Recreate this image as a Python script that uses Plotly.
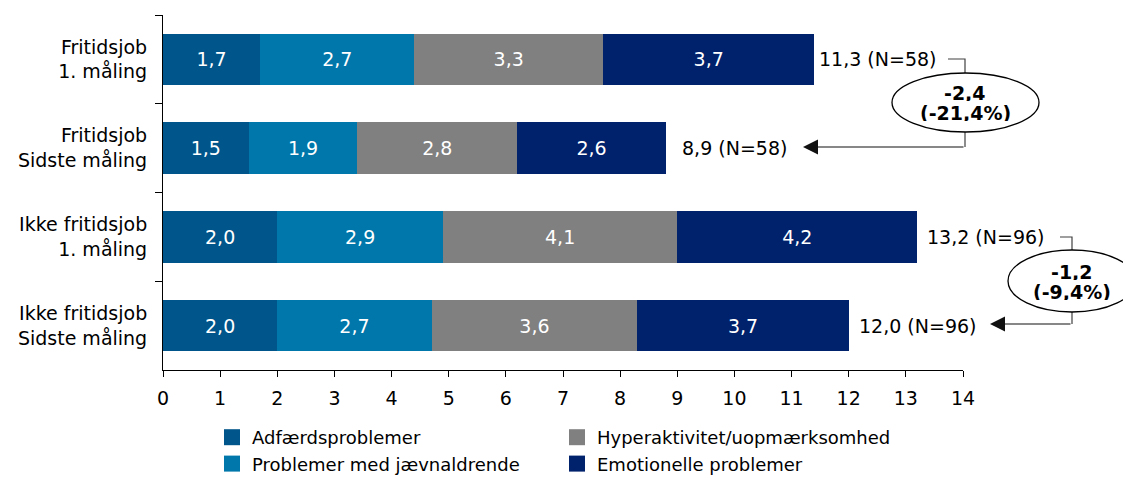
import plotly.graph_objects as go

categories = ["Fritidsjob<br>1. måling", "Fritidsjob<br>Sidste måling",
              "Ikke fritidsjob<br>1. måling", "Ikke fritidsjob<br>Sidste måling"]
series_names = ["Adfærdsproblemer", "Problemer med jævnaldrende",
                "Hyperaktivitet/uopmærksomhed", "Emotionelle problemer"]
adfaerd = [1.7, 1.5, 2.0, 2.0]
jaevnaldrende = [2.7, 1.9, 2.9, 2.7]
hyperaktivitet = [3.3, 2.8, 4.1, 3.6]
emotionelle = [3.7, 2.6, 4.2, 3.7]
totals = [11.3, 8.9, 13.2, 12.0]
n_values = [58, 58, 96, 96]
changes = ["-2,4", "-1,2"]
change_pct = ["(-21,4%)", "(-9,4%)"]
x_ticks = list(range(0, 15))

colors = ["#00558A", "#0077AA", "#808080", "#00216B"]
values = [adfaerd, jaevnaldrende, hyperaktivitet, emotionelle]
FONT = "DejaVu Sans"
FS = 19

OFF = 8  # page body margin
W, H = 1131 - OFF, 480 - OFF
L, R, T, B = 163 - OFF, 963 - OFF, 15 - OFF, 370 - OFF


def px(x):
    return (x - OFF - L) / (R - L)


def py(y):
    return (B - (y - OFF)) / (B - T)


fig = go.Figure()
for name, vals, col in zip(series_names, values, colors):
    fig.add_trace(go.Bar(
        y=categories, x=vals, name=name, orientation="h",
        marker=dict(color=col, line=dict(width=0)),
        width=0.58,
        texttemplate="%{x:.1f}", textposition="inside",
        insidetextanchor="middle", constraintext="none",
        textfont=dict(color="white", size=FS, family=FONT),
        showlegend=False, hoverinfo="skip",
    ))

# legend entries (two columns)
legend_map = ["legend", "legend", "legend2", "legend2"]
for k, (name, col, lg) in enumerate(zip(series_names, colors, legend_map)):
    fig.add_trace(go.Scatter(
        x=[None], y=[None], mode="markers", name=name,
        marker=dict(symbol="square", size=20, color=col),
        legend=lg, legendgroup=f"g{k}", showlegend=True,
    ))

annotations = []
for cat, tot, n in zip(categories, totals, n_values):
    annotations.append(dict(
        x=tot, y=cat, xref="x", yref="y",
        text=f"{tot:.1f}".replace(".", ",") + f" (N={n})",
        showarrow=False, xanchor="left", xshift=8,
        font=dict(size=FS, family=FONT, color="black"),
    ))

# brackets / ellipses (pixel layout in window coordinates)
brackets = [
    dict(x_start=948, y_top=59, xc=965, e=(892, 73, 1039, 132), y_bot=147, tip=803),
    dict(x_start=1060, y_top=237, xc=1072, e=(1008, 250, 1136, 312), y_bot=324, tip=990),
]
shapes = []
for i, b in enumerate(brackets):
    ex0, ey0, ex1, ey1 = b["e"]
    shapes.append(dict(type="path", xref="paper", yref="paper",
                       path=f"M{px(b['x_start'])},{py(b['y_top'])} L{px(b['xc'])},{py(b['y_top'])} L{px(b['xc'])},{py(ey0)}",
                       line=dict(color="#404040", width=1.2)))
    shapes.append(dict(type="line", xref="paper", yref="paper",
                       x0=px(b["xc"]), x1=px(b["xc"]), y0=py(ey1), y1=py(b["y_bot"]),
                       line=dict(color="#404040", width=1.2)))
    shapes.append(dict(type="circle", xref="paper", yref="paper",
                       x0=px(ex0), x1=px(ex1), y0=py(ey1), y1=py(ey0),
                       line=dict(color="black", width=1.3), fillcolor="white"))
    annotations.append(dict(
        x=px(b["tip"]), y=py(b["y_bot"]), xref="paper", yref="paper",
        ax=b["xc"] - b["tip"], ay=0, text="", showarrow=True,
        arrowhead=2, arrowsize=2.5, arrowwidth=1.2, arrowcolor="#111111",
    ))
    cx = px(b["xc"])
    cy_mid = (ey0 + ey1) / 2
    annotations.append(dict(
        x=cx, y=py(cy_mid - 10), xref="paper", yref="paper",
        xanchor="center", yanchor="middle", height=17, valign="middle",
        text=f"<b>{changes[i]}</b>", showarrow=False,
        font=dict(size=FS, family=FONT, color="black"),
    ))
    annotations.append(dict(
        x=cx, y=py(cy_mid + 10.5), xref="paper", yref="paper",
        xanchor="center", yanchor="middle", height=17, valign="middle",
        text=f"<b>{change_pct[i]}</b>", showarrow=False,
        font=dict(size=FS, family=FONT, color="black"),
    ))

fig.update_layout(
    width=W, height=H,
    barmode="stack",
    separators=", ",
    plot_bgcolor="white", paper_bgcolor="white",
    margin=dict(l=L, r=W - R, t=T, b=H - B, pad=0, autoexpand=False),
    font=dict(family=FONT, size=FS, color="black"),
    xaxis=dict(range=[0, 14], tickvals=x_ticks, ticktext=[str(t) for t in x_ticks],
               showgrid=False, zeroline=False, showline=True, linecolor="black",
               linewidth=1, ticks="outside", ticklen=6, tickcolor="black",
               automargin=False, ticklabelstandoff=5,
               tickfont=dict(size=FS, family=FONT, color="black")),
    yaxis=dict(categoryorder="array", categoryarray=categories, autorange="reversed",
               showgrid=False, zeroline=False, showline=True, linecolor="black",
               linewidth=1, ticks="outside", ticklen=7, tickcolor="black",
               tickson="boundaries", ticklabelstandoff=11, automargin=False,
               tickfont=dict(size=FS, family=FONT, color="black")),
    legend=dict(x=px(212), y=py(419), xanchor="left", yanchor="top",
                orientation="v", font=dict(size=18, family=FONT, color="black"),
                bgcolor="rgba(0,0,0,0)", itemsizing="trace", tracegroupgap=4,
                traceorder="normal"),
    legend2=dict(x=px(557), y=py(419), xanchor="left", yanchor="top",
                 orientation="v", font=dict(size=18, family=FONT, color="black"),
                 bgcolor="rgba(0,0,0,0)", itemsizing="trace", tracegroupgap=4,
                 traceorder="normal"),
    annotations=annotations,
    shapes=shapes,
)

fig.write_html("out.html")
